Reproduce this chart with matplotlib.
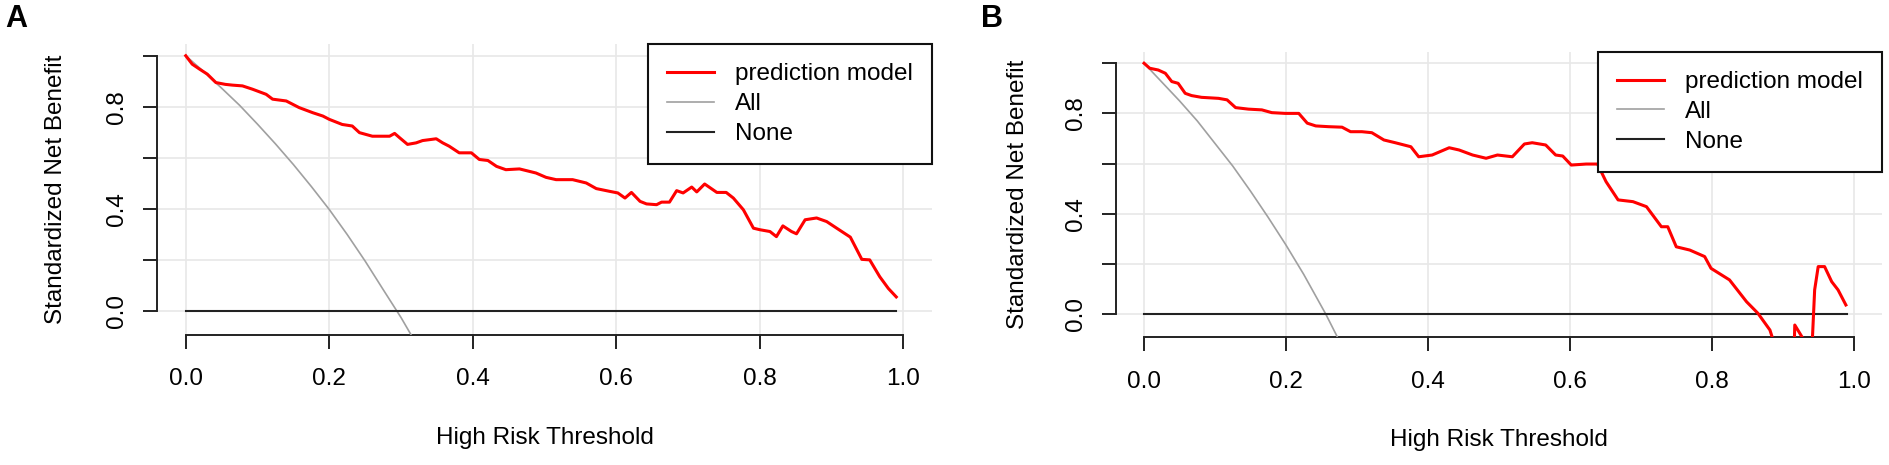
import matplotlib.pyplot as plt

plt.rcParams['font.family'] = ['Liberation Sans', 'DejaVu Sans']

# values
thresh_a = [0.000, 0.009, 0.019, 0.030, 0.042, 0.055, 0.065, 0.079, 0.093, 0.112,
            0.121, 0.140, 0.158, 0.177, 0.191, 0.200, 0.218, 0.232, 0.242, 0.260,
            0.284, 0.291, 0.298, 0.309, 0.321, 0.330, 0.349, 0.358, 0.367, 0.381,
            0.398, 0.409, 0.421, 0.433, 0.446, 0.465, 0.488, 0.502, 0.516, 0.539,
            0.558, 0.572, 0.591, 0.602, 0.612, 0.621, 0.633, 0.642, 0.656, 0.663,
            0.674, 0.684, 0.693, 0.705, 0.712, 0.723, 0.740, 0.753, 0.763, 0.777,
            0.791, 0.800, 0.814, 0.823, 0.832, 0.844, 0.851, 0.863, 0.879, 0.893,
            0.907, 0.926, 0.942, 0.953, 0.967, 0.979, 0.990]
model_a = [1.000, 0.967, 0.948, 0.928, 0.895, 0.888, 0.885, 0.882, 0.869, 0.849,
           0.830, 0.823, 0.797, 0.777, 0.764, 0.751, 0.731, 0.725, 0.699, 0.685,
           0.685, 0.696, 0.679, 0.653, 0.659, 0.668, 0.675, 0.659, 0.646, 0.620,
           0.620, 0.594, 0.590, 0.567, 0.554, 0.557, 0.541, 0.524, 0.515, 0.515,
           0.502, 0.480, 0.469, 0.463, 0.443, 0.465, 0.430, 0.420, 0.417, 0.427,
           0.427, 0.472, 0.463, 0.486, 0.467, 0.498, 0.465, 0.465, 0.443, 0.397,
           0.325, 0.319, 0.312, 0.292, 0.334, 0.312, 0.303, 0.358, 0.365, 0.351,
           0.325, 0.290, 0.203, 0.201, 0.135, 0.089, 0.056]
all_x_a = [0.000, 0.025, 0.050, 0.075, 0.100, 0.125, 0.150, 0.175, 0.200,
           0.225, 0.250, 0.275, 0.300, 0.330]
all_y_a = [1.000, 0.938, 0.873, 0.806, 0.732, 0.655, 0.574, 0.488, 0.398,
           0.300, 0.196, 0.085, -0.025, -0.170]

thresh_b = [0.000, 0.008, 0.020, 0.030, 0.039, 0.048, 0.058, 0.067, 0.081, 0.105,
            0.117, 0.129, 0.147, 0.166, 0.180, 0.199, 0.218, 0.230, 0.242, 0.260,
            0.279, 0.291, 0.307, 0.321, 0.338, 0.354, 0.376, 0.387, 0.406, 0.430,
            0.444, 0.463, 0.482, 0.498, 0.519, 0.536, 0.547, 0.566, 0.580, 0.590,
            0.602, 0.623, 0.639, 0.651, 0.668, 0.689, 0.708, 0.729, 0.738, 0.750,
            0.769, 0.790, 0.799, 0.825, 0.849, 0.865, 0.882, 0.895, 0.910, 0.916,
            0.917, 0.929, 0.935, 0.941, 0.945, 0.950, 0.959, 0.969, 0.978, 0.989]
model_b = [1.000, 0.980, 0.973, 0.960, 0.927, 0.920, 0.880, 0.871, 0.864, 0.860,
           0.854, 0.823, 0.817, 0.814, 0.803, 0.800, 0.800, 0.761, 0.750, 0.747,
           0.745, 0.727, 0.727, 0.723, 0.694, 0.683, 0.667, 0.627, 0.634, 0.663,
           0.654, 0.634, 0.621, 0.634, 0.627, 0.678, 0.683, 0.674, 0.634, 0.630,
           0.594, 0.598, 0.598, 0.528, 0.455, 0.448, 0.428, 0.348, 0.348, 0.268,
           0.255, 0.229, 0.182, 0.136, 0.049, 0.003, -0.064, -0.180, -0.200, -0.150,
           -0.044, -0.100, -0.200, -0.150, 0.096, 0.189, 0.189, 0.129, 0.096, 0.036]
all_x_b = [0.000, 0.025, 0.050, 0.075, 0.100, 0.125, 0.150, 0.175, 0.200,
           0.225, 0.256, 0.290]
all_y_b = [1.000, 0.925, 0.850, 0.770, 0.680, 0.590, 0.490, 0.385, 0.275,
           0.158, 0.000, -0.190]

none_x = [0.0, 0.99]
none_y = [0.0, 0.0]

ticks = [0.0, 0.2, 0.4, 0.6, 0.8, 1.0]
xlabels = ['0.0', '0.2', '0.4', '0.6', '0.8', '1.0']
ylabels = ['0.0', '', '0.4', '', '0.8', '']

FS = 17.5

fig = plt.figure(figsize=(18.9, 4.65), dpi=100)
ax_a = fig.add_axes([0.0831, 0.2796, 0.4101, 0.6258])
ax_b = fig.add_axes([0.5903, 0.2746, 0.4055, 0.6142])

panels = [(ax_a, thresh_a, model_a, all_x_a, all_y_a, -0.116, -0.3175),
          (ax_b, thresh_b, model_b, all_x_b, all_y_b, -0.113, -0.32)]

for ax, tx, my, ax_x, ax_y, ylab_x, xlab_y in panels:
    ax.plot(tx, my, color='#ff0000', lw=2.2, label='prediction model', zorder=4)
    ax.plot(ax_x, ax_y, color='#a0a0a0', lw=1.2, label='All', zorder=3)
    ax.plot(none_x, none_y, color='#222222', lw=1.5, label='None', zorder=3)

    ax.set_xlim(-0.04, 1.04)
    ax.set_ylim(-0.093, 1.046)
    ax.set_xticks(ticks)
    ax.set_xticklabels(xlabels)
    ax.set_yticks(ticks)
    ax.set_yticklabels(ylabels, rotation=90, va='center')
    ax.grid(True, color='#e8e8e8', lw=1.2)
    ax.set_axisbelow(True)

    for side in ['top', 'right']:
        ax.spines[side].set_visible(False)
    for side in ['left', 'bottom']:
        ax.spines[side].set_bounds(0, 1)
        ax.spines[side].set_linewidth(1.4)
        ax.spines[side].set_color('#222222')
    ax.tick_params(axis='both', length=10, width=1.4, color='#222222', labelsize=FS)
    ax.tick_params(axis='x', pad=14)
    ax.tick_params(axis='y', pad=11)

    ax.set_xlabel('High Risk Threshold', fontsize=FS)
    ax.set_ylabel('Standardized Net Benefit', fontsize=FS)
    ax.xaxis.set_label_coords(0.5, xlab_y)
    ax.yaxis.set_label_coords(ylab_x, 0.5)

    leg = ax.legend(loc='upper right', borderaxespad=0, fontsize=FS, fancybox=False,
                    framealpha=1, edgecolor='#111111', handlelength=1.93,
                    handletextpad=0.85, borderpad=0.8, labelspacing=0.32)
    leg.get_frame().set_linewidth(1.5)

fig.text(5 / 1890, 1 - 4 / 465, 'A', fontsize=22, fontweight='bold', ha='left', va='top')
fig.text(981 / 1890, 1 - 4 / 465, 'B', fontsize=22, fontweight='bold', ha='left', va='top')

fig.savefig('out.png', dpi=100)
